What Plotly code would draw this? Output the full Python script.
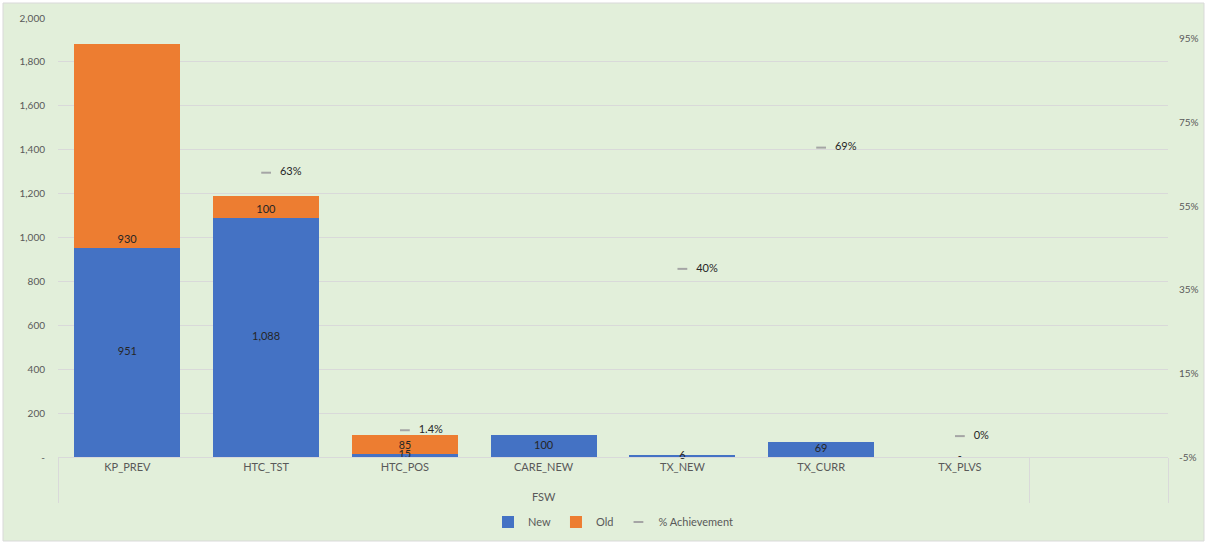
import plotly.graph_objects as go

groups = ["<br>FSW"] * 7 + [" "]
categories = ["KP_PREV", "HTC_TST", "HTC_POS", "CARE_NEW", "TX_NEW", "TX_CURR", "TX_PLVS", " "]
new_vals = [951, 1088, 15, 100, 6, 69, 0, None]
old_vals = [930, 100, 85, None, None, None, None, None]
new_labels = ["951", "1,088", "15", "100", "6", "69", "-", ""]
old_labels = ["930", "100", "85", "", "", "", "", ""]
achievement = [None, 0.63, 0.014, None, 0.40, 0.69, 0.0, None]
achievement_labels = ["", "63%", "1.4%", "", "40%", "69%", "0%", ""]

left_ticks = [0, 200, 400, 600, 800, 1000, 1200, 1400, 1600, 1800, 2000]
left_ticktext = ["-", "200", "400", "600", "800", "1,000", "1,200", "1,400", "1,600", "1,800", "2,000"]
right_ticks = [-0.05, 0.15, 0.35, 0.55, 0.75, 0.95]
right_ticktext = ["-5%", "15%", "35%", "55%", "75%", "95%"]

x = [groups, categories]
FONT = "Lato"
BG = "#E2EFDA"

fig = go.Figure()
fig.add_trace(go.Bar(
    x=x, y=new_vals, name="New", marker=dict(color="#4472C4", line=dict(width=0)),
    textposition="none",
))
fig.add_trace(go.Bar(
    x=x, y=old_vals, name="Old", marker=dict(color="#ED7D31", line=dict(width=0)),
    text=old_labels, textposition="inside", insidetextanchor="start", textangle=0,
    textfont=dict(color="#262626", size=11, family=FONT),
))
# New labels at the middle of each blue segment
fig.add_trace(go.Scatter(
    x=x, y=[(v / 2 if v is not None else None) for v in new_vals],
    mode="text", text=new_labels, textposition="middle center",
    textfont=dict(color="#262626", size=11, family=FONT),
    showlegend=False, hoverinfo="skip", cliponaxis=False,
))
fig.add_trace(go.Scatter(
    x=x, y=achievement, name="% Achievement", yaxis="y2",
    mode="markers+text", text=[("   " + t if t else "") for t in achievement_labels],
    textposition="middle right",
    marker=dict(symbol="line-ew", size=7, color="#A5A5A5",
                line=dict(color="#A5A5A5", width=2)),
    textfont=dict(color="#262626", size=11, family=FONT),
    cliponaxis=False,
))

def px_x(p):
    return (p - 58) / 1110

def px_y(p):
    return (457 - p) / 439

fig.update_layout(
    width=1207, height=544,
    margin=dict(l=58, r=39, t=18, b=87),
    paper_bgcolor="white", plot_bgcolor=BG,
    barmode="stack", bargap=0.235,
    font=dict(family=FONT, size=11, color="#595959"),
    xaxis=dict(
        type="multicategory", showgrid=False, showline=True,
        linecolor="#D9D9D9", linewidth=1, ticks="",
        tickfont=dict(size=11, color="#595959"), automargin=False,
        showdividers=True, dividercolor="#D9D9D9", dividerwidth=1,
    ),
    yaxis=dict(
        range=[0, 2000], tickvals=left_ticks, ticktext=left_ticktext,
        showgrid=True, gridcolor="#D9D9D9", gridwidth=1, zeroline=False,
        tickfont=dict(size=10, color="#595959"), ticks="", automargin=False,
        ticklabelstandoff=12,
    ),
    yaxis2=dict(
        overlaying="y", side="right", range=[-0.05, 1.0],
        tickvals=right_ticks, ticktext=right_ticktext,
        showgrid=False, zeroline=False, automargin=False,
        tickfont=dict(size=10, color="#595959"), ticks="",
        ticklabelstandoff=10,
    ),
    legend=dict(
        orientation="h", x=0.5, xanchor="center",
        yref="container", y=1 - 522 / 544, yanchor="middle",
        font=dict(size=11, color="#595959"), bgcolor="rgba(0,0,0,0)",
        traceorder="normal",
    ),
    shapes=[dict(
        type="rect", xref="paper", yref="paper",
        x0=px_x(3), x1=px_x(1204), y0=px_y(541), y1=px_y(3),
        fillcolor=BG, line=dict(color="#D9D9D9", width=1), layer="below",
    )],
)

fig.write_html("out.html")
